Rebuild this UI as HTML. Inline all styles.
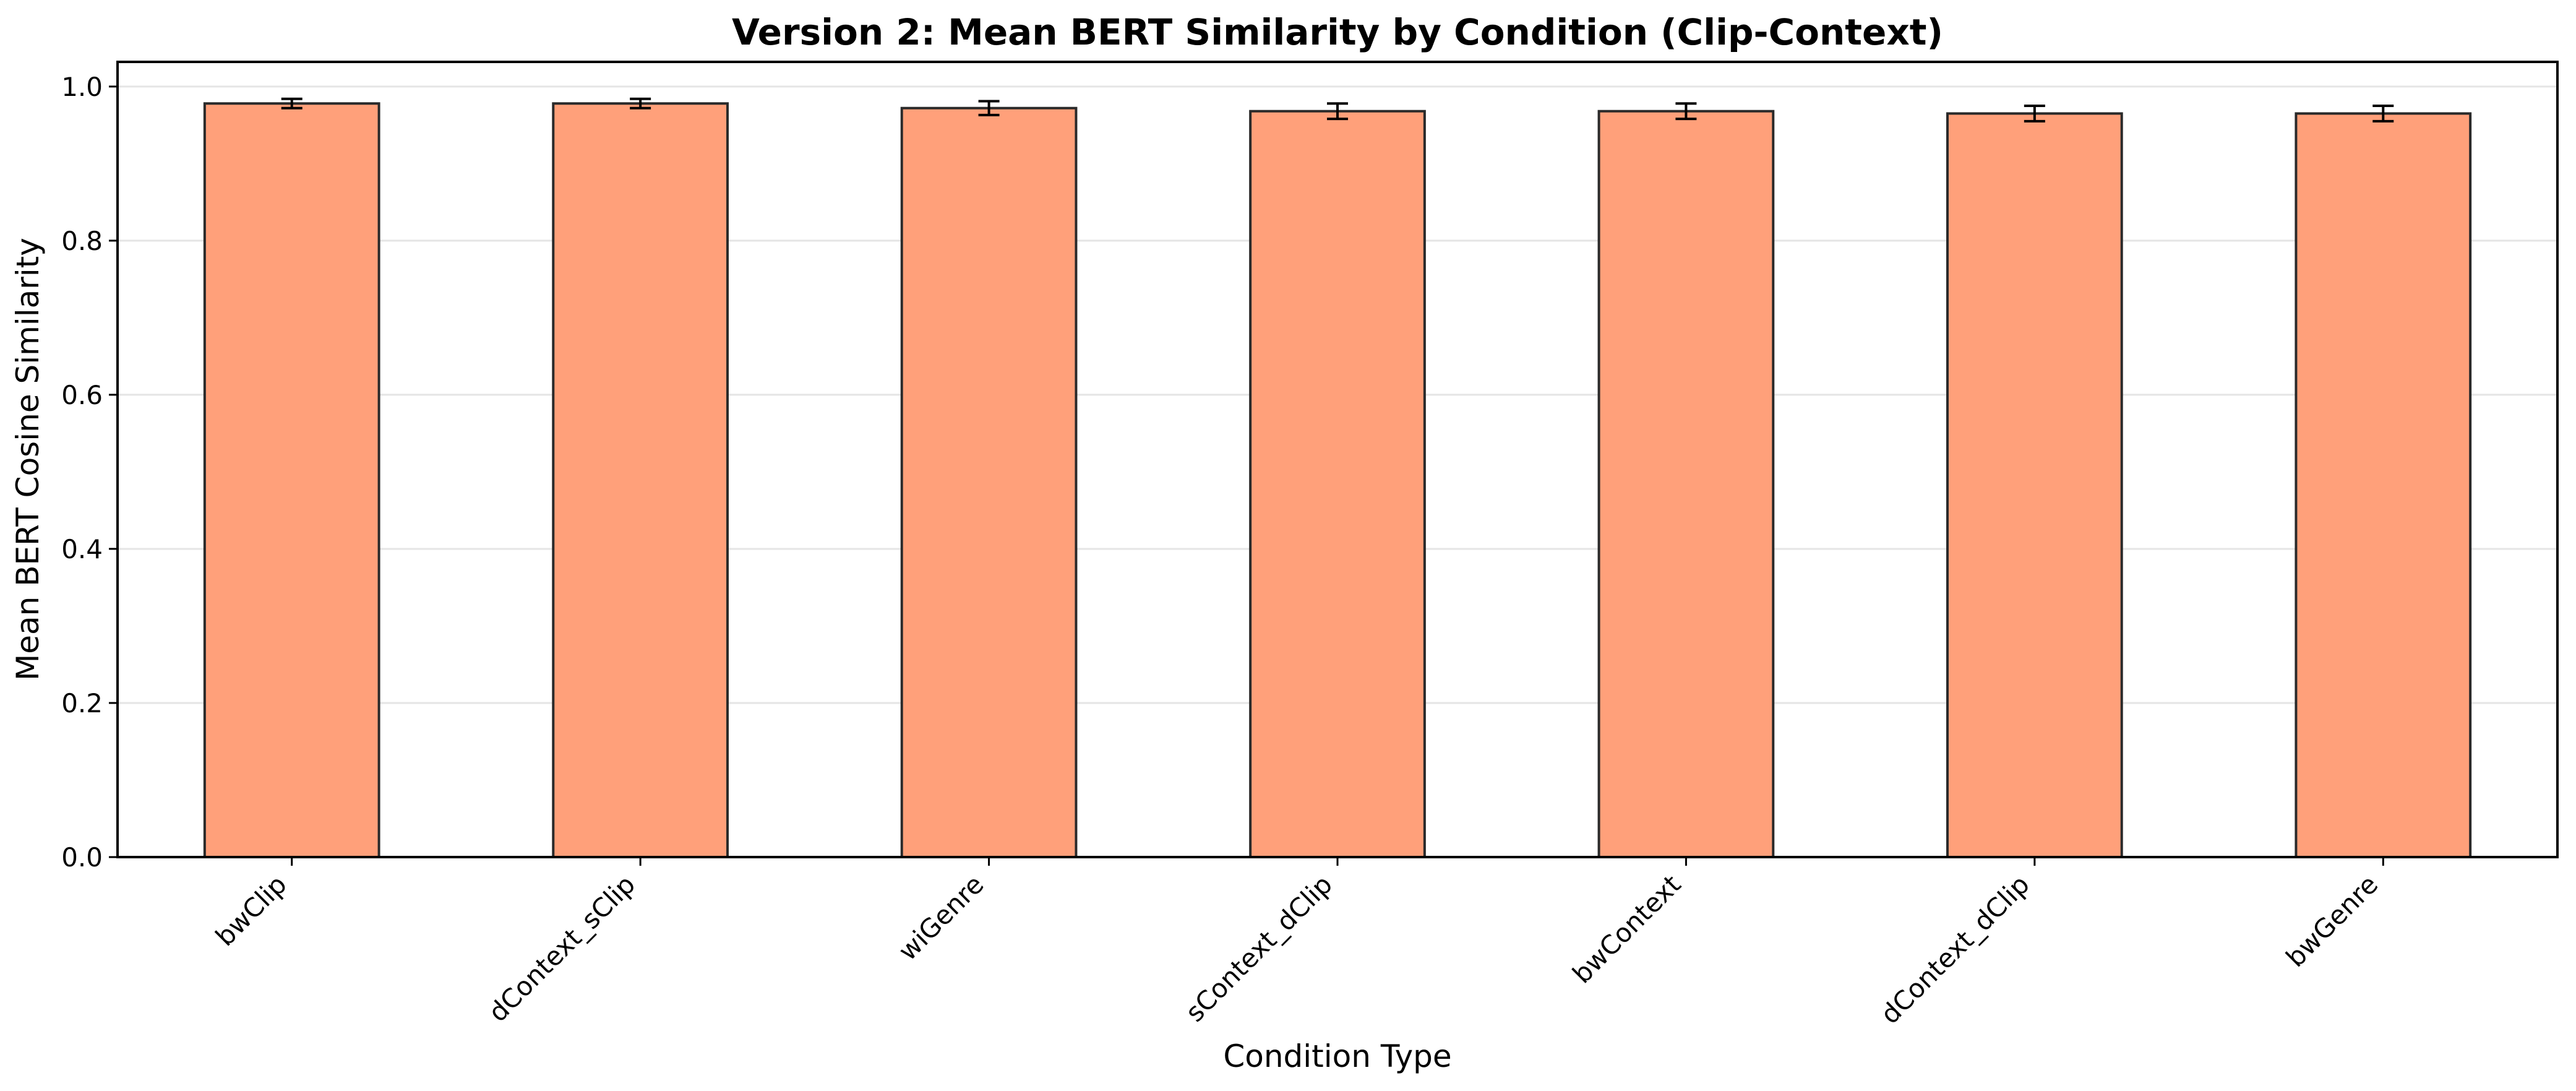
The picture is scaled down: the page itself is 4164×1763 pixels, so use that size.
<!DOCTYPE html>
<html><head><meta charset="utf-8"><style>
html,body{margin:0;padding:0;background:#fff;}
svg{display:block;font-family:"DejaVu Sans","Liberation Sans",sans-serif;}
</style></head><body>
<svg id="chart" width="4164" height="1763" viewBox="0 0 4164 1763" xmlns="http://www.w3.org/2000/svg">
<rect width="4164" height="1763" fill="#fff"/>
<text x="2162" y="72" text-anchor="middle" font-size="58" font-weight="bold">Version 2: Mean BERT Similarity by Condition (Clip-Context)</text>
<text transform="translate(62,742) rotate(-90)" text-anchor="middle" font-size="50">Mean BERT Cosine Similarity</text>
<text x="2162" y="1724" text-anchor="middle" font-size="50">Condition Type</text>
<g id="grid"></g><g id="bars"></g><g id="axes"></g>
</svg>
<script>
const categories = ["bwClip","dContext_sClip","wiGenre","sContext_dClip","bwContext","dContext_dClip","bwGenre"];
const means = [0.978,0.978,0.972,0.968,0.968,0.965,0.965];
const errors = [0.006,0.006,0.009,0.010,0.010,0.010,0.010];
const yTicks = [0.0,0.2,0.4,0.6,0.8,1.0];
const yTickLabels = ["0.0","0.2","0.4","0.6","0.8","1.0"];

const NS="http://www.w3.org/2000/svg";
const L=190,R=4134,T=100,B=1385,YMAX=1.032;
const step=(R-L)/categories.length;
function xs(i){return L+step*(i+0.5);}
function ys(v){return B-v/YMAX*(B-T);}
function mk(tag,attrs,parent){const e=document.createElementNS(NS,tag);for(const k in attrs)e.setAttribute(k,attrs[k]);parent.appendChild(e);return e;}
const grid=document.getElementById('grid'),bars=document.getElementById('bars'),axes=document.getElementById('axes');
yTicks.forEach((t,i)=>{
  const y=ys(t);
  const g=mk('line',{x1:L,x2:R,y1:y,y2:y,stroke:'#e5e5e5','stroke-width':3},grid);
  
  
  const tk=mk('line',{x1:L-14,x2:L,y1:y,y2:y,stroke:'#000','stroke-width':3},axes);
  
  
  const tx=mk('text',{x:L-24,y:y+15,'text-anchor':'end','font-size':42},axes);
  tx.textContent=yTickLabels[i];
  
  
});
const bw=step*0.5;
categories.forEach((c,i)=>{
  const cx=xs(i),y=ys(means[i]);
  const r=mk('rect',{x:cx-bw/2,y:y,width:bw,height:B-y,fill:'#ffa07a',stroke:'#2a2a2a','stroke-width':4},bars);
  
  
  const y1=ys(means[i]+errors[i]),y2=ys(means[i]-errors[i]);
  const eb=mk('path',{d:`M${cx},${y1}V${y2}M${cx-17},${y1}H${cx+17}M${cx-17},${y2}H${cx+17}`,stroke:'#000','stroke-width':4,fill:'none'},bars);
  
  
  const tk=mk('line',{x1:cx,x2:cx,y1:B,y2:B+14,stroke:'#000','stroke-width':3},axes);
  
  
  const px=cx-6,py=B+47;
  const tx=mk('text',{x:px,y:py,'text-anchor':'end','font-size':42,transform:`rotate(-45 ${px} ${py})`},axes);
  tx.textContent=c;
  
  
});
const fr=mk('rect',{x:L,y:T,width:R-L,height:B-T,fill:'none',stroke:'#000','stroke-width':4},axes);


</script>
</body></html>
